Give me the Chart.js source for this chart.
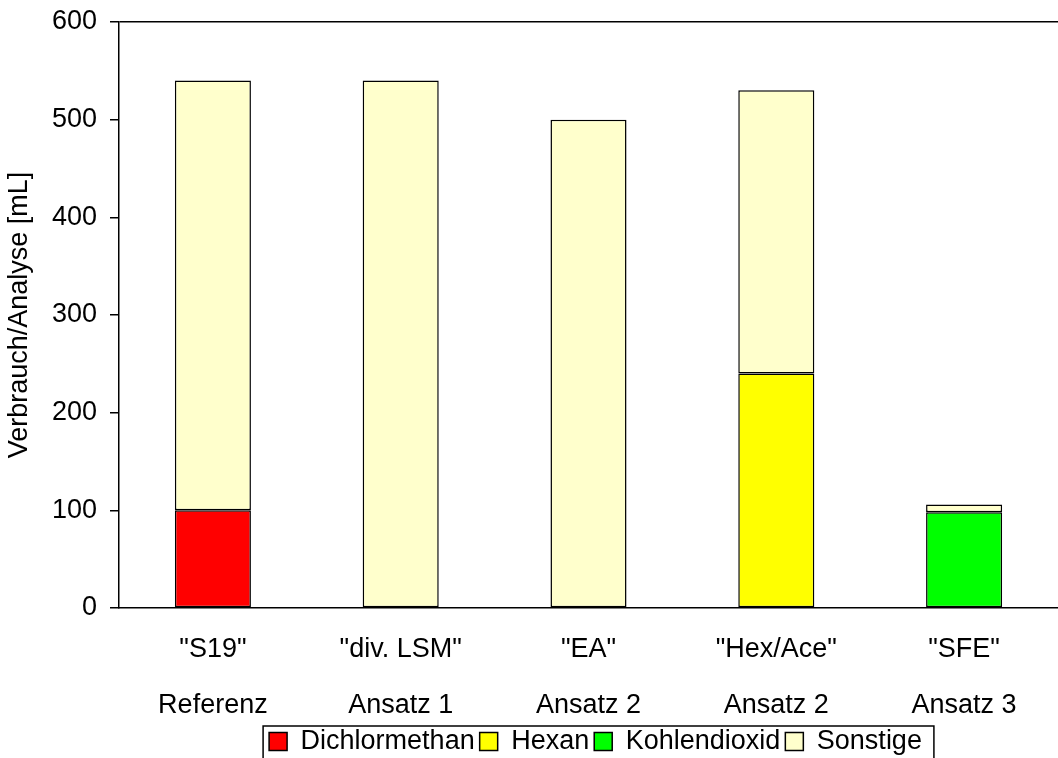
<!DOCTYPE html>
<html>
<head>
<meta charset="utf-8">
<script src="https://cdn.jsdelivr.net/npm/chart.js@4"></script>
<style>
  html, body { margin: 0; padding: 0; background: #fff; }
  #wrap { width: 1058px; height: 758px; position: relative; }
</style>
</head>
<body>
<div id="wrap"><canvas id="c" width="1058" height="758"></canvas></div>
<script>
const categories = [
  ['"S19"', 'Referenz'],
  ['"div. LSM"', 'Ansatz 1'],
  ['"EA"', 'Ansatz 2'],
  ['"Hex/Ace"', 'Ansatz 2'],
  ['"SFE"', 'Ansatz 3']
];
const dichlormethan = [100, null, null, null, null];
const hexan = [null, null, null, 240, null];
const kohlendioxid = [null, null, null, null, 98];
const sonstige = [440, 540, 500, 290, 8];
const yTicks = [0, 100, 200, 300, 400, 500, 600];
const yTitle = 'Verbrauch/Analyse [mL]';

const FONT = 'Liberation Sans, Arial, sans-serif';
const FS = 27;

function ds(label, data, color) {
  return {
    label, data,
    backgroundColor: color,
    borderColor: '#000',
    borderWidth: 1.5,
    borderSkipped: false,
    barPercentage: 0.405,
    categoryPercentage: 1.0
  };
}

const legendShift = {
  id: 'legendShift',
  afterLayout(chart) {
    const lg = chart.legend;
    if (!lg) return;
    lg.left += 7;
    lg.right += 7;
  }
};

const legendBorder = {
  id: 'legendBorder',
  afterDraw(chart) {
    const lg = chart.legend;
    if (!lg || !lg.legendHitBoxes || !lg.legendHitBoxes.length) return;
    const hb = lg.legendHitBoxes;
    const first = hb[0], last = hb[hb.length - 1];
    const left = first.left - 6;
    const right = last.left + last.width + 12;
    const top = first.top - 2;
    const ctx = chart.ctx;
    ctx.save();
    ctx.strokeStyle = '#000';
    ctx.lineWidth = 1.5;
    ctx.strokeRect(left, top, right - left, chart.height + 20 - top);
    ctx.restore();
  }
};

new Chart(document.getElementById('c'), {
  type: 'bar',
  data: {
    labels: categories,
    datasets: [
      ds('Dichlormethan', dichlormethan, '#FF0000'),
      ds('Hexan', hexan, '#FFFF00'),
      ds('Kohlendioxid', kohlendioxid, '#00FF00'),
      ds('Sonstige', sonstige, '#FFFFCC')
    ]
  },
  options: {
    responsive: false,
    animation: false,
    events: [],
    layout: { padding: { top: 22, right: 0, left: 0, bottom: -7 } },
    plugins: {
      tooltip: { enabled: false },
      legend: {
        position: 'bottom',
        fullSize: false,
        labels: {
          color: '#000',
          font: { family: FONT, size: FS },
          boxWidth: 18,
          boxHeight: 18,
          padding: 5
        }
      }
    },
    scales: {
      x: {
        stacked: true,
        grid: { display: false, drawTicks: false, tickLength: 0 },
        border: { display: true, color: '#000', width: 1.5 },
        ticks: {
          color: '#000',
          font: { family: FONT, size: FS, lineHeight: 56 / FS },
          padding: 14,
          maxRotation: 0,
          autoSkip: false
        },
        afterFit(scale) {
          scale.height = 758 + 7 - 40 - 607 - 3;
          scale.paddingLeft = 0; scale.paddingRight = 0;
        }
      },
      y: {
        stacked: true,
        min: 0,
        max: 600,
        afterBuildTicks(scale) { scale.ticks = yTicks.map(v => ({ value: v })); },
        grid: {
          drawOnChartArea: true,
          color: (c) => (c.tick && c.tick.value === 600) ? '#000' : 'rgba(0,0,0,0)',
          lineWidth: 1.5,
          tickColor: '#000',
          tickLength: 9,
          tickWidth: 1.5
        },
        border: { display: true, color: '#000', width: 1.5 },
        ticks: {
          color: '#000',
          font: { family: FONT, size: FS },
          padding: 13
        },
        title: {
          display: true,
          text: yTitle,
          color: '#000',
          font: { family: FONT, size: FS },
          padding: { top: 3, bottom: 0 }
        },
        afterFit(scale) {
          scale.width = 119;
          scale.paddingTop = 0; scale.paddingBottom = 0;
        }
      }
    }
  },
  plugins: [legendShift, legendBorder]
});
</script>
</body>
</html>
